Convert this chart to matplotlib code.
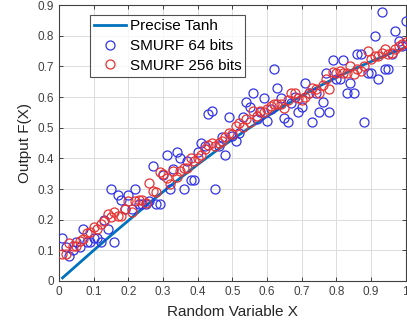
import numpy as np
import matplotlib
matplotlib.use("Agg")
import matplotlib.pyplot as plt

plt.rcParams['font.family'] = ['Liberation Sans', 'DejaVu Sans']

# precise tanh curve
tanh_x = [0.01, 0.05, 0.10, 0.15, 0.20, 0.25, 0.30, 0.35, 0.40, 0.45, 0.50,
          0.55, 0.60, 0.65, 0.70, 0.75, 0.80, 0.85, 0.90, 0.95, 1.00]
tanh_y = [0.010, 0.050, 0.100, 0.149, 0.197, 0.245, 0.291, 0.336, 0.380, 0.422, 0.462,
          0.500, 0.537, 0.572, 0.604, 0.635, 0.664, 0.691, 0.716, 0.740, 0.762]

sample_x = [round(0.01 * (i + 1), 2) for i in range(100)]

smurf64 = [0.140, 0.110, 0.080, 0.100, 0.127, 0.110, 0.170, 0.127, 0.127, 0.140,
           0.140, 0.127, 0.200, 0.170, 0.300, 0.127, 0.280, 0.265, 0.235, 0.280,
           0.235, 0.300, 0.250, 0.250, 0.250, 0.260, 0.375, 0.250, 0.250, 0.345,
           0.410, 0.300, 0.366, 0.420, 0.400, 0.300, 0.390, 0.330, 0.330, 0.420,
           0.450, 0.440, 0.545, 0.555, 0.300, 0.440, 0.470, 0.410, 0.535, 0.472,
           0.456, 0.483, 0.535, 0.583, 0.568, 0.614, 0.530, 0.550, 0.598, 0.521,
           0.560, 0.690, 0.630, 0.598, 0.532, 0.518, 0.580, 0.600, 0.551, 0.568,
           0.647, 0.614, 0.518, 0.614, 0.551, 0.583, 0.677, 0.551, 0.721, 0.660,
           0.660, 0.721, 0.614, 0.645, 0.614, 0.739, 0.739, 0.518, 0.677, 0.677,
           0.800, 0.660, 0.878, 0.693, 0.693, 0.739, 0.816, 0.783, 0.767, 0.849]

smurf256 = [0.087, 0.087, 0.123, 0.115, 0.115, 0.130, 0.137, 0.155, 0.160, 0.175,
            0.170, 0.185, 0.197, 0.218, 0.208, 0.225, 0.213, 0.213, 0.235, 0.260,
            0.225, 0.260, 0.265, 0.265, 0.255, 0.320, 0.295, 0.290, 0.355, 0.350,
            0.335, 0.315, 0.360, 0.340, 0.360, 0.370, 0.370, 0.400, 0.390, 0.400,
            0.410, 0.430, 0.445, 0.450, 0.440, 0.450, 0.456, 0.470, 0.483, 0.480,
            0.507, 0.514, 0.503, 0.530, 0.520, 0.554, 0.538, 0.554, 0.550, 0.560,
            0.570, 0.576, 0.576, 0.576, 0.565, 0.590, 0.614, 0.614, 0.598, 0.592,
            0.600, 0.614, 0.630, 0.625, 0.614, 0.641, 0.658, 0.627, 0.682, 0.680,
            0.685, 0.680, 0.680, 0.701, 0.674, 0.690, 0.685, 0.700, 0.750, 0.723,
            0.734, 0.734, 0.745, 0.756, 0.740, 0.745, 0.756, 0.767, 0.772, 0.780]

fig = plt.figure(figsize=(4.07, 3.20), dpi=100)
ax = fig.add_axes([0.145, 0.122, 0.852, 0.862])

ax.plot(tanh_x, tanh_y, color='#0072BD', lw=2, label='Precise Tanh', zorder=3)
ax.plot(sample_x, smurf64, 'o', ls='none', mfc='none', mec=(0.2, 0.2, 0.9),
        ms=6.5, mew=0.9, label='SMURF 64 bits', zorder=4)
ax.plot(sample_x, smurf256, 'o', ls='none', mfc='none', mec=(0.9, 0.2, 0.2),
        ms=6.5, mew=0.9, label='SMURF 256 bits', zorder=4)

ax.set_xlim(0, 1)
ax.set_ylim(0, 0.9)
ax.set_xticks(np.arange(0, 1.01, 0.1))
ax.set_xticklabels(['0', '0.1', '0.2', '0.3', '0.4', '0.5', '0.6', '0.7', '0.8', '0.9', '1'])
ax.set_yticks(np.arange(0, 0.91, 0.1))
ax.set_yticklabels(['0', '0.1', '0.2', '0.3', '0.4', '0.5', '0.6', '0.7', '0.8', '0.9'])
ax.grid(True, color='#dcdcdc', lw=0.7)
ax.set_axisbelow(True)
ax.tick_params(direction='in', length=3, top=True, right=True, labelsize=8.5,
               colors='#404040', width=0.7)
for s in ax.spines.values():
    s.set_color('#404040')
    s.set_linewidth(0.8)

ax.set_xlabel('Random Variable X', fontsize=11, color='#262626', labelpad=5)
ax.set_ylabel('Output F(X)', fontsize=11, color='#262626', labelpad=4)

leg = ax.legend(loc='upper left', bbox_to_anchor=(0.09, 0.963), fontsize=11,
                frameon=True, fancybox=False, borderpad=0.25, labelspacing=0.38,
                handlelength=2.1, handletextpad=0.25, borderaxespad=0)
leg.get_frame().set_edgecolor('#262626')
leg.get_frame().set_linewidth(0.8)

fig.savefig('out.png', dpi=100)
